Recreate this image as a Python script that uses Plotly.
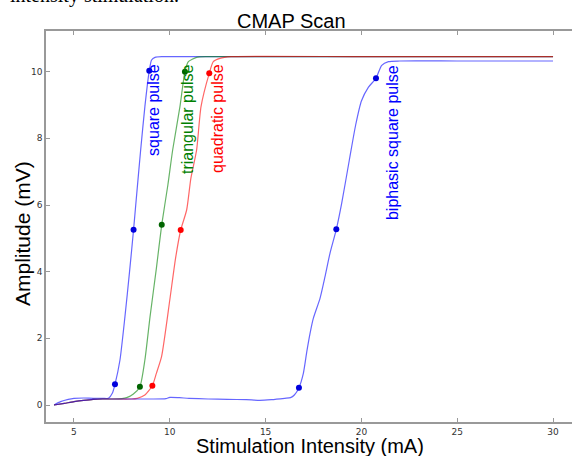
import plotly.graph_objects as go

# ---- data ----
square_x = [3.96, 4.3, 4.7, 5.0, 5.5, 6.0, 6.5, 6.8, 7.0, 7.14, 7.4, 7.66, 7.9, 8.11, 8.3, 8.48, 8.7, 8.93, 9.05, 9.23, 9.6, 12.0, 20.0, 30.0]
square_y = [0.0, 0.1, 0.17, 0.2, 0.21, 0.2, 0.2, 0.2, 0.35, 0.62, 1.35, 2.65, 4.0, 5.26, 6.5, 7.65, 8.95, 10.03, 10.35, 10.43, 10.45, 10.45, 10.45, 10.45]
square_mx = [7.14, 8.11, 8.93]
square_my = [0.62, 5.26, 10.03]

tri_x = [3.96, 4.5, 5.0, 5.5, 6.0, 6.5, 7.0, 7.5, 7.75, 8.1, 8.44, 8.7, 8.97, 9.3, 9.58, 9.9, 10.15, 10.53, 10.79, 10.97, 11.4, 12.0, 20.0, 30.0]
tri_y = [0.0, 0.05, 0.1, 0.14, 0.17, 0.18, 0.18, 0.19, 0.22, 0.33, 0.55, 1.35, 2.65, 4.1, 5.41, 6.6, 7.65, 8.95, 10.0, 10.3, 10.43, 10.45, 10.45, 10.45]
tri_mx = [8.44, 9.58, 10.79]
tri_my = [0.55, 5.41, 10.0]

quad_x = [3.96, 4.5, 5.0, 5.5, 6.0, 6.5, 7.0, 8.0, 8.3, 8.7, 9.09, 9.3, 9.57, 10.0, 10.3, 10.57, 10.88, 11.1, 11.4, 11.63, 12.06, 12.27, 12.62, 13.2, 20.0, 30.0]
quad_y = [0.0, 0.05, 0.1, 0.14, 0.17, 0.18, 0.18, 0.18, 0.2, 0.3, 0.58, 0.95, 1.45, 3.15, 4.4, 5.25, 5.85, 6.8, 7.65, 8.95, 9.95, 10.3, 10.4, 10.45, 10.45, 10.45]
quad_mx = [9.09, 10.57, 12.06]
quad_my = [0.58, 5.25, 9.95]

bi_x = [3.96, 4.5, 5.0, 5.5, 6.0, 6.5, 7.0, 8.0, 9.0, 9.8, 10.0, 10.5, 11.0, 12.0, 13.0, 14.0, 14.7, 15.3, 16.0, 16.3, 16.5, 16.74, 16.97, 17.15, 17.32, 17.49, 17.84, 18.1, 18.36, 18.69, 18.97, 19.37, 19.7, 20.0, 20.36, 20.76, 21.06, 21.41, 22.0, 25.0, 30.0]
bi_y = [0.0, 0.05, 0.1, 0.14, 0.17, 0.18, 0.18, 0.18, 0.18, 0.19, 0.23, 0.22, 0.2, 0.18, 0.17, 0.16, 0.14, 0.16, 0.2, 0.22, 0.3, 0.52, 0.95, 1.6, 2.15, 2.6, 3.2, 3.85, 4.55, 5.27, 6.05, 7.35, 8.4, 9.12, 9.53, 9.8, 10.19, 10.3, 10.32, 10.32, 10.32]
bi_mx = [16.74, 18.69, 20.76]
bi_my = [0.52, 5.27, 9.8]

labels = ["square pulse", "triangular pulse", "quadratic pulse", "biphasic square pulse"]
label_x = [9.12, 10.9, 12.46, 21.6]
label_y = [8.85, 8.58, 8.61, 7.86]

x_ticks = [5, 10, 15, 20, 25, 30]
y_ticks = [0, 2, 4, 6, 8, 10]

# ---- styling ----
W, H = 572, 456
L, R, T, B = 46, 0, 31, 34
line_cols = ["rgba(0,0,255,0.6)", "rgba(0,128,0,0.6)", "rgba(255,0,0,0.6)", "rgba(0,0,255,0.6)"]
mark_cols = ["#0000dd", "#006400", "#ff0000", "#0000dd"]
text_cols = ["#0000ff", "#008000", "#ff0000", "#0000ff"]

series = [
    (square_x, square_y, square_mx, square_my),
    (tri_x, tri_y, tri_mx, tri_my),
    (quad_x, quad_y, quad_mx, quad_my),
    (bi_x, bi_y, bi_mx, bi_my),
]

fig = go.Figure()
for i, (lx, ly, mx, my) in enumerate(series):
    fig.add_trace(go.Scatter(x=lx, y=ly, mode="lines",
                             line=dict(color=line_cols[i], width=1.2, shape="spline", smoothing=0.6),
                             hoverinfo="skip", showlegend=False))
for i, (lx, ly, mx, my) in enumerate(series):
    fig.add_trace(go.Scatter(x=mx, y=my, mode="markers",
                             marker=dict(color=mark_cols[i], size=6),
                             hoverinfo="skip", showlegend=False))

for i, t in enumerate(labels):
    fig.add_annotation(x=label_x[i], y=label_y[i], xref="x", yref="y", text=t,
                       textangle=-90, showarrow=False,
                       font=dict(family="Liberation Sans", size=16, color=text_cols[i]))

pw = W - L - R
ph = H - T - B
def px(xp):
    return (xp - L) / pw
def py(yp):
    return (H - B - yp) / ph

# title
fig.add_annotation(x=px(291), y=py(21), xref="paper", yref="paper", text="CMAP Scan",
                   showarrow=False, xanchor="center", yanchor="middle",
                   font=dict(family="Liberation Sans", size=20, color="#000000"))
# axis titles
fig.add_annotation(x=px(310), y=py(446), xref="paper", yref="paper", text="Stimulation Intensity (mA)",
                   showarrow=False, xanchor="center", yanchor="middle",
                   font=dict(family="Liberation Sans", size=20, color="#000000"))
fig.add_annotation(x=px(23), y=py(234), xref="paper", yref="paper", text="Amplitude (mV)",
                   showarrow=False, xanchor="center", yanchor="middle", textangle=-90,
                   font=dict(family="Liberation Sans", size=21, color="#000000"))
# cropped caption from the surrounding document
fig.add_annotation(x=px(8), y=py(9), xref="paper", yref="paper", text="intensity stimulation.",
                   showarrow=False, xanchor="left", yanchor="bottom",
                   font=dict(family="Liberation Serif", size=20, color="#000000"))

fig.update_layout(
    width=W, height=H,
    margin=dict(l=L, r=R, t=T, b=B, pad=0),
    paper_bgcolor="white", plot_bgcolor="white",
    showlegend=False,
    xaxis=dict(range=[3.54, 30.99], tickvals=x_ticks, ticks="inside", ticklen=4,
               tickcolor="#999999", showline=True, linecolor="#999999", linewidth=1.5,
               mirror="ticks", showgrid=False, zeroline=False,
               tickfont=dict(family="DejaVu Sans", size=9, color="#333333")),
    yaxis=dict(range=[-0.51, 11.22], tickvals=y_ticks, ticks="inside", ticklen=4,
               tickcolor="#999999", showline=True, linecolor="#999999", linewidth=1.5,
               showgrid=False, zeroline=False,
               tickfont=dict(family="DejaVu Sans", size=9, color="#333333")),
)

fig.write_html("out.html")
